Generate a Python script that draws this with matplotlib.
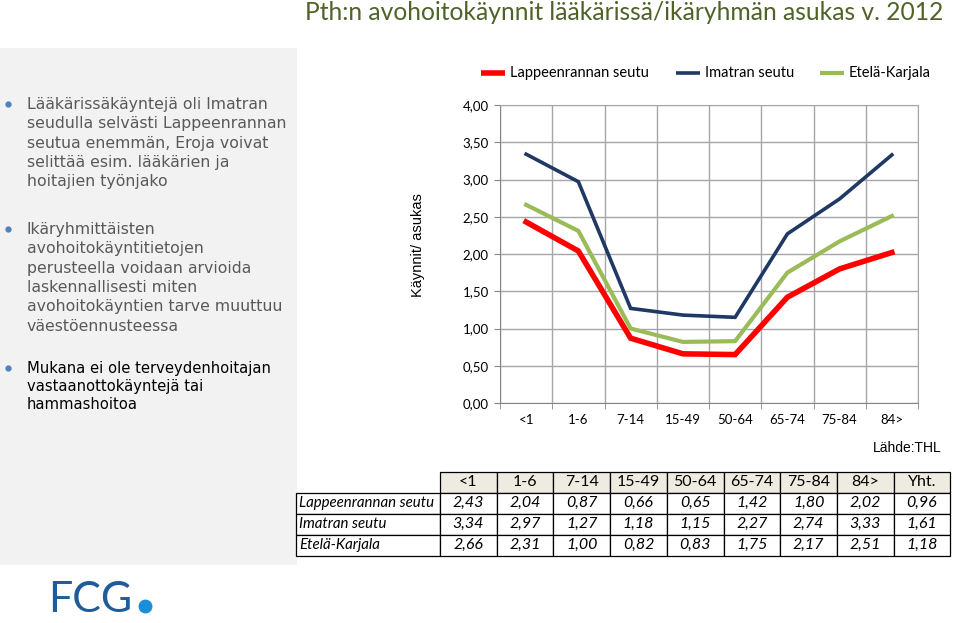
import matplotlib.pyplot as plt
from matplotlib.patches import Rectangle

# data
ages = ["<1", "1-6", "7-14", "15-49", "50-64", "65-74", "75-84", "84>"]
regions = ["Lappeenrannan seutu", "Imatran seutu", "Etelä-Karjala"]
lappeenranta = [2.43, 2.04, 0.87, 0.66, 0.65, 1.42, 1.80, 2.02]
imatra = [3.34, 2.97, 1.27, 1.18, 1.15, 2.27, 2.74, 3.33]
etela_karjala = [2.66, 2.31, 1.00, 0.82, 0.83, 1.75, 2.17, 2.51]
totals = [0.96, 1.61, 1.18]
yticks = [0, 0.5, 1, 1.5, 2, 2.5, 3, 3.5, 4]

colors = ["#FF0000", "#1F3864", "#9BBB59"]
widths = [4.0, 2.6, 3.0]
calib = ["Lato", "DejaVu Sans"]


def fmt(v):
    return f"{v:.2f}".replace(".", ",")


W, H = 960, 623
fig = plt.figure(figsize=(W / 100, H / 100), dpi=100)

# background layer in pixel coordinates
bg = fig.add_axes([0, 0, 1, 1])
bg.set_xlim(0, W)
bg.set_ylim(H, 0)
bg.axis("off")

# title
bg.text(943, 13, "Pth:n avohoitokäynnit lääkärissä/ikäryhmän asukas v. 2012",
        ha="right", va="center", fontsize=17.7, color="#4F6228", family=calib)

# grey text panel
bg.add_patch(Rectangle((0, 48), 297, 517, facecolor="#F2F2F2", edgecolor="none"))

bullets = [
    ("Lääkärissäkäyntejä oli Imatran\nseudulla selvästi Lappeenrannan\nseutua enemmän, Eroja voivat\nselittää esim. lääkärien ja\nhoitajien työnjako",
     104, "#595959", 11.3, 1.36),
    ("Ikäryhmittäisten\navohoitokäyntitietojen\nperusteella voidaan arvioida\nlaskennallisesti miten\navohoitokäyntien tarve muuttuu\nväestöennusteessa",
     229, "#595959", 11.3, 1.36),
    ("Mukana ei ole terveydenhoitajan\nvastaanottokäyntejä tai\nhammashoitoa", 368, "#000000", 10.6, 1.25),
]
for txt, y0, c, fs, ls in bullets:
    bg.plot(8, y0, "o", color="#4F81BD", markersize=3.5)
    bg.text(27, y0 - 7, txt, ha="left", va="top", fontsize=fs, color=c,
            linespacing=ls)

# legend
lx = [481, 676, 820]
for i, name in enumerate(regions):
    bg.plot([lx[i], lx[i] + 24], [73, 73], color=colors[i], lw=widths[i],
            solid_capstyle="butt")
    bg.text(lx[i] + 29, 73, name, ha="left", va="center", fontsize=10.5,
            family=calib, color="#000000")

# y label
bg.text(418, 245, "Käynnit/ asukas", rotation=90, ha="center", va="center",
        fontsize=10.5, family="Liberation Sans")
bg.text(942, 448, "Lähde:THL", ha="right", va="center", fontsize=10,
        family="Liberation Sans")

# table
col0_l, col0_r = 296, 440
cw = 56.7
row_y = [472, 492.5, 513.5, 534.5, 555.5]
table_rows = [lappeenranta, imatra, etela_karjala]
headers = ages + ["Yht."]
for j, h in enumerate(headers):
    x = col0_r + j * cw
    bg.add_patch(Rectangle((x, row_y[0]), cw, row_y[1] - row_y[0],
                           facecolor="#EEECE1", edgecolor="#000000", lw=0.9))
    bg.text(x + cw / 2, (row_y[0] + row_y[1]) / 2, h, ha="center", va="center",
            fontsize=11.5, family=calib)
for i, name in enumerate(regions):
    y = row_y[i + 1]
    hgt = row_y[i + 2] - y
    bg.add_patch(Rectangle((col0_l, y), col0_r - col0_l, hgt,
                           facecolor="white", edgecolor="#000000", lw=0.9))
    bg.text(col0_l + 3, y + hgt / 2, name, ha="left", va="center",
            fontsize=10.8, style="italic", family=calib)
    vals = table_rows[i] + [totals[i]]
    for j, v in enumerate(vals):
        x = col0_r + j * cw
        bg.add_patch(Rectangle((x, y), cw, hgt, facecolor="white",
                               edgecolor="#000000", lw=0.9))
        bg.text(x + cw / 2, y + hgt / 2, fmt(v), ha="center", va="center",
                fontsize=11.5, style="italic", family=calib)

# logo
bg.text(48, 600, "FCG", ha="left", va="center", fontsize=31,
        color="#1F5C99", family=calib)
bg.plot(145, 606, "o", color="#1A8FD9", markersize=9)

# chart
ax = fig.add_axes([500 / W, 1 - 403 / H, 418 / W, 298 / H])
x = range(len(ages))
for vals, c, lw in zip([lappeenranta, imatra, etela_karjala], colors, widths):
    ax.plot(x, vals, color=c, lw=lw, solid_joinstyle="miter")
ax.set_xlim(-0.5, len(ages) - 0.5)
ax.set_ylim(0, 4)
ax.set_yticks(yticks)
ax.set_yticklabels([fmt(v) for v in yticks], fontsize=9.5, family=calib)
ax.set_xticks(list(x))
ax.set_xticklabels(ages, fontsize=9.5, family=calib)
ax.set_xticks([i - 0.5 for i in range(len(ages) + 1)], minor=True)
ax.tick_params(axis="x", which="major", length=0, pad=8)
ax.tick_params(axis="x", which="minor", length=4, color="#868686")
ax.tick_params(axis="y", length=4, color="#868686", pad=4)
ax.grid(True, which="minor", axis="x", color="#A6A6A6", lw=1)
ax.grid(True, which="major", axis="y", color="#A6A6A6", lw=1)
for s in ax.spines.values():
    s.set_color("#A6A6A6")
ax.spines["left"].set_color("#868686")
ax.spines["bottom"].set_color("#868686")
ax.set_facecolor("none")

fig.savefig("out.png", dpi=100)
